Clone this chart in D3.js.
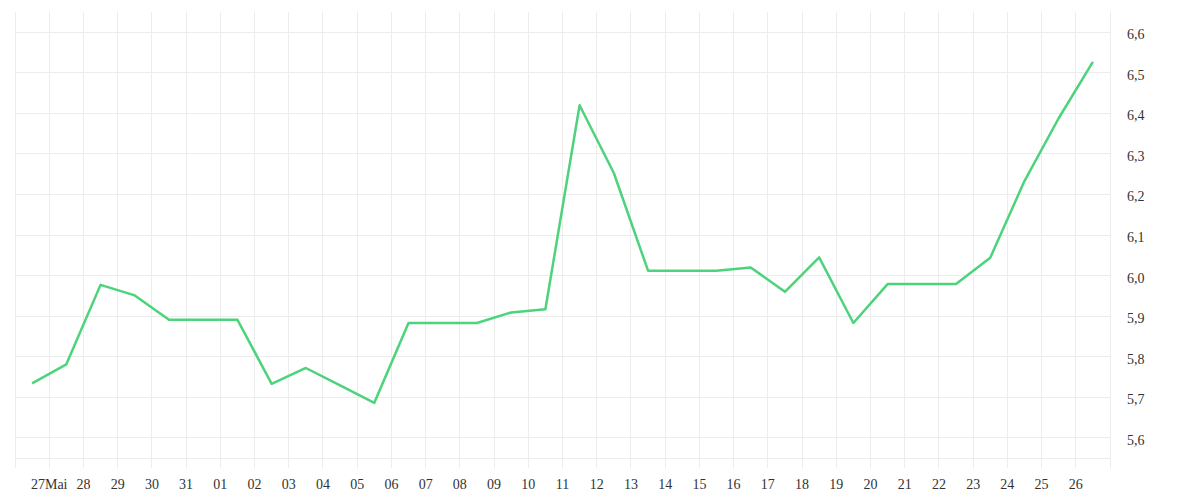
<!DOCTYPE html>
<html>
<head>
<meta charset="utf-8">
<script src="https://cdn.jsdelivr.net/npm/d3@7"></script>
<style>
  body { margin: 0; background: #fff; }
</style>
</head>
<body>
<svg></svg>
<script>
// daily values, 26 May .. 26 Jun (plotted at midday)
var values = [5.734, 5.781, 5.977, 5.951, 5.891, 5.891, 5.891, 5.733, 5.772, 5.729,
              5.686, 5.883, 5.883, 5.883, 5.909, 5.917, 6.42, 6.253, 6.012, 6.012,
              6.012, 6.02, 5.96, 6.045, 5.883, 5.979, 5.979, 5.979, 6.044, 6.233,
              6.388, 6.527]
var xTickLabels = ["27Mai","28","29","30","31","01","02","03","04","05","06","07","08","09","10",
                   "11","12","13","14","15","16","17","18","19","20","21","22","23","24","25","26"]
var yTicks = [5.6, 5.7, 5.8, 5.9, 6.0, 6.1, 6.2, 6.3, 6.4, 6.5, 6.6]

var font = "'Liberation Serif', 'DejaVu Serif', serif"

var start = new Date(Date.UTC(2023, 4, 26))
var end = new Date(Date.UTC(2023, 5, 27))
var days = d3.utcDay.range(start, end)
var points = values.map((v, i) => ({date: d3.utcHour.offset(days[i], 12), value: v}))

var svg = d3.select("svg")
svg.attr("width", 1200).attr("height", 500)

var x = d3.scaleUtc()
      .domain([start, end])
      .range([15, 1110])
var y = d3.scaleLinear()
      .domain([5.55, 6.65])
      .range([458, 12])

// vertical grid, one line per day (the lower end doubles as the tick)
svg.append("g")
   .selectAll("line")
   .data(d3.utcDay.range(start, d3.utcDay.offset(end, 1)))
   .enter()
   .append("line")
      .attr("x1", d => x(d)).attr("x2", d => x(d))
      .attr("y1", 12).attr("y2", 468)
      .attr("stroke", "#ececec")
      .attr("shape-rendering", "crispEdges")

// horizontal grid
svg.append("g")
   .selectAll("line")
   .data(yTicks.concat([5.55]))
   .enter()
   .append("line")
      .attr("x1", 15).attr("x2", 1110)
      .attr("y1", d => y(d)).attr("y2", d => y(d))
      .attr("stroke", "#ececec")
      .attr("shape-rendering", "crispEdges")

// right axis labels
svg.append("g")
   .selectAll("text")
   .data(yTicks)
   .enter()
   .append("text")
      .text(d => d3.format(".1f")(d).replace(".", ","))
      .attr("x", 1127)
      .attr("y", d => y(d) + 7)
      .attr("fill", "#333")
      .style("font-family", font)
      .style("font-size", "14px")

// bottom axis labels
svg.append("g")
   .selectAll("text")
   .data(xTickLabels)
   .enter()
   .append("text")
      .text(d => d)
      .attr("x", (d, i) => x(days[i + 1]))
      .attr("y", 489)
      .attr("text-anchor", "middle")
      .attr("fill", "#333")
      .style("font-family", font)
      .style("font-size", "14px")

var line = d3.line()
      .x(d => x(d.date))
      .y(d => y(d.value))

svg.append("path")
   .datum(points)
   .attr("d", line)
   .attr("fill", "none")
   .attr("stroke", "#4cd37b")
   .attr("stroke-width", 2.5)
   .attr("stroke-linejoin", "round")
</script>
</body>
</html>
